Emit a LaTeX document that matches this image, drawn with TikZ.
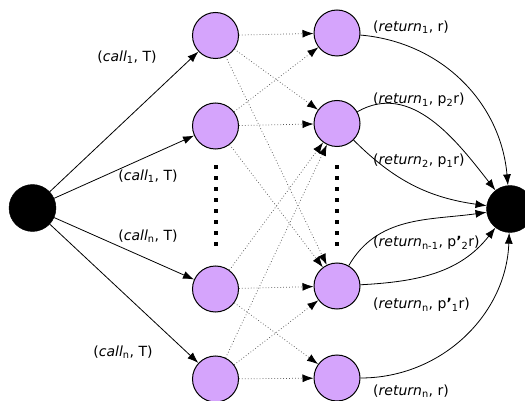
\documentclass[tikz,border=0pt]{standalone}
\usepackage{fontspec}
\setmainfont{DejaVu Sans}
\usetikzlibrary{arrows.meta}
\definecolor{statefill}{RGB}{213,164,252}
\definecolor{dotgray}{RGB}{90,90,90}
\begin{document}
\begin{tikzpicture}[x=1pt,y=1pt,
  state/.style={circle,draw=black,line width=1pt,fill=statefill,minimum size=46pt,inner sep=0pt},
  terminal/.style={circle,fill=black,draw=black,minimum size=47pt,inner sep=0pt},
  tip/.style={-{Latex[length=11pt,width=8pt,black]}},
  flow/.style={tip,line width=0.8pt},
  choice/.style={tip,draw=dotgray,line width=0.75pt,dash pattern=on 0.75pt off 2.2pt},
  lbl/.style={font=\fontsize{14}{16}\selectfont,inner sep=0pt},
  rlbl/.style={lbl,anchor=west}
]
\useasboundingbox (0,0) rectangle (525,-401);

% start and end
\node[terminal] (S) at (32.5,-208) {};
\node[terminal] (E) at (510,-209) {};

% call states
\node[state] (L1) at (215.5,-35.5) {};
\node[state] (L2) at (215.5,-126) {};
\node[state] (L3) at (215.5,-289) {};
\node[state] (L4) at (215.5,-379) {};

% return states
\node[state] (R1) at (337,-33) {};
\node[state] (R2) at (337,-123.5) {};
\node[state] (R3) at (337,-286) {};
\node[state] (R4) at (337,-378) {};

% vertical ellipses
\foreach \yy in {167,178,...,245} {
  \fill (213.5,-\yy-2) rectangle (217.5,-\yy+2);
  \fill (335,-\yy-2) rectangle (339,-\yy+2);
}

% calls
\draw[flow] (S) -- (L1);
\draw[flow] (S) -- (L2);
\draw[flow] (S) -- (L3);
\draw[flow] (S) -- (L4);
\node[lbl] (c1) at (127,-57) {(\textit{call}\textsubscript{1}, T)};
\node[lbl] (c2) at (148,-176) {(\textit{call}\textsubscript{1}, T)};
\node[lbl] (c3) at (148,-236) {(\textit{call}\textsubscript{n}, T)};
\node[lbl] (c4) at (123,-352) {(\textit{call}\textsubscript{n}, T)};

% transitions between call and return states
\draw[choice] (L1) -- (R1);
\draw[choice] (L1) -- (R2);
\draw[choice] (L1) -- (R3);
\draw[choice] (L2) -- (R1);
\draw[choice] (L2) -- (R2);
\draw[choice] (L2) -- (R3);
\draw[choice] (L3) -- (R2);
\draw[choice] (L3) -- (R3);
\draw[choice] (L3) -- (R4);
\draw[choice] (L4) -- (R2);
\draw[choice] (L4) -- (R3);
\draw[choice] (L4) -- (R4);

% returns
\draw[flow] (R1) to[out=-5,in=95] (E);
\draw[flow] (R2) to[out=30,in=128] (E);
\draw[flow] (R2) to[out=-45,in=172] (E);
\draw[flow] (R3) to[out=60,in=188] (E);
\draw[flow] (R3) to[out=3,in=232] (E);
\draw[flow] (R4) to[out=0,in=268] (E);
\node[rlbl] (r1) at (373,-27) {(\textit{return}\textsubscript{1}, r)};
\node[rlbl] (r2) at (373,-100) {(\textit{return}\textsubscript{1}, p\textsubscript{2}r)};
\node[rlbl] (r3) at (373,-161) {(\textit{return}\textsubscript{2}, p\textsubscript{1}r)};
\node[rlbl] (r4) at (373,-243) {(\textit{return}\textsubscript{n-1}, p\textbf{'}\textsubscript{2}r)};
\node[rlbl] (r5) at (373,-305) {(\textit{return}\textsubscript{n}, p\textbf{'}\textsubscript{1}r)};
\node[rlbl] (r6) at (373,-391) {(\textit{return}\textsubscript{n}, r)};
\end{tikzpicture}
\end{document}
